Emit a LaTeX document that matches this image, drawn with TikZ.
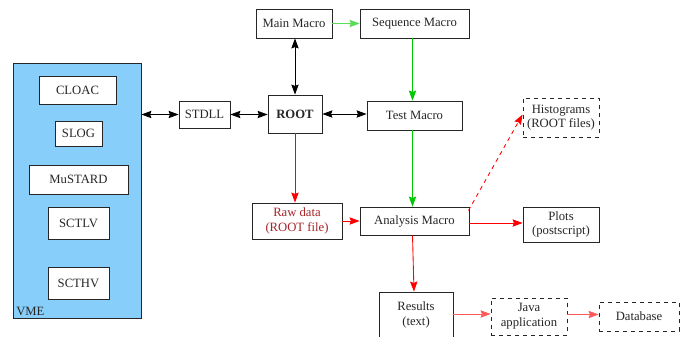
\documentclass[tikz,border=0pt]{standalone}
\usepackage{fontspec}
\setmainfont{Liberation Serif}
\usetikzlibrary{arrows.meta,calc}
\definecolor{vmeblue}{RGB}{135,206,250}
\definecolor{rawred}{RGB}{165,35,40}
\definecolor{lgreen}{RGB}{90,220,90}
\definecolor{dgreen}{RGB}{0,200,0}
\definecolor{lred}{RGB}{255,90,90}
\tikzset{
  box/.style={draw=black!85, line width=0.65pt, fill=white, inner sep=1pt, align=center, font=\fontsize{9.5}{11}\selectfont, text=black!85},
  dbox/.style={box, dashed},
  arr/.style={line width=0.65pt, -{Stealth[length=7.5pt,width=5.5pt,inset=1pt]}},
  biarr/.style={line width=0.65pt, {Stealth[length=7.5pt,width=5.5pt,inset=1pt]}-{Stealth[length=7.5pt,width=5.5pt,inset=1pt]}},
}
\begin{document}
\begin{tikzpicture}[x=0.75pt,y=-0.75pt]
\useasboundingbox (0,0) rectangle (693,336);
\begin{scope}
\clip (0,0) rectangle (693,336);
% VME
\node[box, fill=vmeblue, minimum width=128*0.75pt, minimum height=255*0.75pt] (vme) at (77,190.5) {};
\node[anchor=south west, inner sep=0pt, font=\fontsize{9.5}{11}\selectfont, text=black!85] (vmel) at (16,316) {VME};
\node[box, minimum width=77*0.75pt, minimum height=28*0.75pt] (cloac) at (77.5,90) {CLOAC};
\node[box, minimum width=47*0.75pt, minimum height=25*0.75pt] (slog) at (78.5,133.5) {SLOG};
\node[box, minimum width=99*0.75pt, minimum height=29*0.75pt] (must) at (78.5,179.5) {MuSTARD};
\node[box, minimum width=61*0.75pt, minimum height=32*0.75pt] (sctlv) at (78.5,223) {SCTLV};
\node[box, minimum width=61*0.75pt, minimum height=32*0.75pt] (scthv) at (78.5,283) {SCTHV};
% middle
\node[box, minimum width=51*0.75pt, minimum height=27*0.75pt] (stdll) at (204.5,114.5) {STDLL};
\node[box, minimum width=54*0.75pt, minimum height=38*0.75pt, font=\fontsize{9.5}{11}\selectfont\bfseries] (root) at (295,114) {ROOT};
\node[box, minimum width=76*0.75pt, minimum height=29*0.75pt] (main) at (294,23.5) {Main Macro};
\node[box, minimum width=109*0.75pt, minimum height=29*0.75pt] (seq) at (414.5,23.5) {Sequence Macro};
\node[box, minimum width=95*0.75pt, minimum height=29*0.75pt] (test) at (414.5,115.5) {Test Macro};
\node[box, minimum width=90*0.75pt, minimum height=36*0.75pt, text=rawred] (raw) at (297,221) {Raw data\\(ROOT file)};
\node[box, minimum width=109*0.75pt, minimum height=28*0.75pt] (ana) at (414.5,221) {Analysis Macro};
\node[box, minimum width=74*0.75pt, minimum height=46*0.75pt] (res) at (416,315) {Results\\(text)};
\node[dbox, minimum width=76*0.75pt, minimum height=39*0.75pt] (hist) at (561,117.5) {Histograms\\(ROOT files)};
\node[box, minimum width=76*0.75pt, minimum height=35*0.75pt] (plots) at (561,224.5) {Plots\\(postscript)};
\node[dbox, minimum width=76*0.75pt, minimum height=37*0.75pt] (java) at (529,316.5) {Java\\application};
\node[dbox, minimum width=80*0.75pt, minimum height=29*0.75pt] (db) at (639,316.5) {Database};
% connectors
\draw[biarr] (vme.east |- stdll) -- (stdll.west);
\draw[biarr] (stdll.east) -- (root.west |- stdll);
\draw[biarr] (main.south -| root) -- (root.north);
\draw[biarr] (root.east) -- (root.east -| test.west);
\draw[arr, lgreen] (main.east) -- (seq.west);
\draw[arr, dgreen] ($(seq.south)+(-2,0)$) -- ($(test.north)+(-2,0)$);
\draw[arr, dgreen] ($(test.south)+(-2,0)$) -- ($(ana.north)+(-2,0)$);
\draw[arr, red] (root.south) -- (root.south |- raw.north);
\draw[arr, red] (raw.east) -- (raw.east -| ana.west);
\draw[arr, red] ($(ana.east)+(0,2)$) -- ($(ana.east -| plots.west)+(0,2)$);
\draw[arr, red, dashed] ($(ana.north east)+(-1,4)$) -- ($(hist.west)+(0,-3)$);
\draw[arr, red] ($(ana.south)+(-2,0)$) -- ($(res.north)+(-2,0)$);
\draw[arr, lred] ($(res.east)+(0,-1)$) -- ($(res.east -| java.west)+(0,-1)$);
\draw[arr, lred] ($(java.east)+(0,-2)$) -- ($(java.east -| db.west)+(0,-2)$);
\end{scope}
\end{tikzpicture}
\end{document}
